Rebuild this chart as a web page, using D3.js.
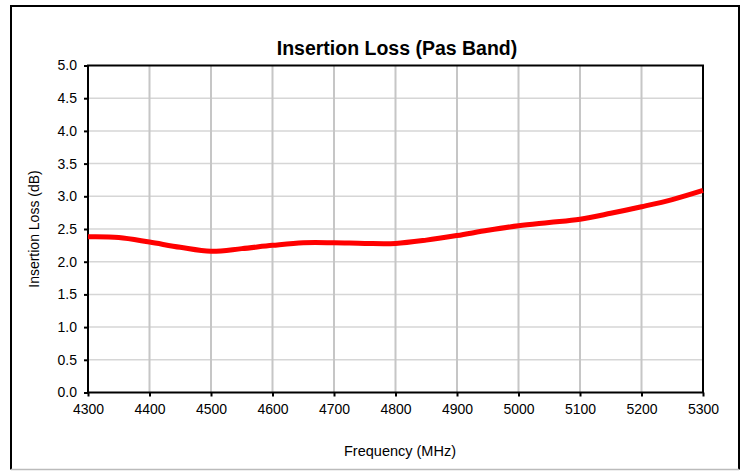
<!doctype html>
<meta charset="utf-8">
<title>Insertion Loss (Pas Band)</title>
<script src="https://cdn.jsdelivr.net/npm/d3@7"></script>
<style>
body { margin: 0; background: #fff; }
svg { display: block; font-family: "Liberation Sans", Arial, sans-serif; }
.tick text { font-size: 14px; fill: #000; }
</style>
<svg id="chart" width="746" height="471"></svg>
<script>
var freqs = [4300, 4350, 4400, 4450, 4500, 4550, 4600, 4650, 4700, 4750, 4800,
             4850, 4900, 4950, 5000, 5050, 5100, 5150, 5200, 5250, 5300];
var loss  = [2.38, 2.37, 2.30, 2.22, 2.16, 2.20, 2.25, 2.29, 2.29, 2.28, 2.28,
             2.33, 2.40, 2.48, 2.55, 2.60, 2.65, 2.74, 2.84, 2.95, 3.09];
var xTicks = [4300, 4400, 4500, 4600, 4700, 4800, 4900, 5000, 5100, 5200, 5300];
var yTicks = [0, 0.5, 1, 1.5, 2, 2.5, 3, 3.5, 4, 4.5, 5];

var plotL = 88, plotT = 65.5, plotR = 703, plotB = 392.5;

var svg = d3.select("#chart");

// outer frame
svg.append("path")
  .attr("d", "M11,469.5 V6 H739 V469.5")
  .attr("fill", "none").attr("stroke", "#000").attr("stroke-width", 2);
svg.append("line")
  .attr("x1", 11).attr("x2", 739).attr("y1", 469.5).attr("y2", 469.5)
  .attr("stroke", "#bbb").attr("stroke-width", 1.5);

var x = d3.scaleLinear().domain([4300, 5300]).range([plotL, plotR]);
var y = d3.scaleLinear().domain([0, 5]).range([plotB, plotT]);

// grid
svg.append("g").selectAll("line").data(yTicks.slice(1, -1)).join("line")
  .attr("x1", plotL).attr("x2", plotR)
  .attr("y1", d => y(d)).attr("y2", d => y(d))
  .attr("stroke", "#d6d6d6").attr("stroke-width", 1.5);
svg.append("g").selectAll("line").data(xTicks.slice(1, -1)).join("line")
  .attr("y1", plotT).attr("y2", plotB)
  .attr("x1", d => x(d)).attr("x2", d => x(d))
  .attr("stroke", "#c6c6c6").attr("stroke-width", 2);

// axes
var xAxis = svg.append("g")
  .attr("transform", "translate(0," + plotB + ")")
  .call(d3.axisBottom(x).tickValues(xTicks).tickSize(4).tickPadding(8).tickFormat(d3.format("d")));
var yAxis = svg.append("g")
  .attr("transform", "translate(" + plotL + ",0)")
  .call(d3.axisLeft(y).tickValues(yTicks).tickSize(4).tickPadding(7).tickFormat(d3.format(".1f")));
[xAxis, yAxis].forEach(function(a) {
  a.select(".domain").remove();
  a.selectAll(".tick line").attr("stroke", "#000").attr("stroke-width", 2);
  a.attr("font-family", null).attr("font-size", null);
});

// plot border
svg.append("rect")
  .attr("x", plotL).attr("y", plotT)
  .attr("width", plotR - plotL).attr("height", plotB - plotT)
  .attr("fill", "none").attr("stroke", "#000").attr("stroke-width", 2);

// data line
var line = d3.line()
  .x((d, i) => x(freqs[i]))
  .y(d => y(d))
  .curve(d3.curveCatmullRom);
svg.append("path")
  .datum(loss)
  .attr("d", line)
  .attr("fill", "none")
  .attr("stroke", "#ff0000")
  .attr("stroke-width", 5);

// labels
svg.append("text")
  .attr("x", 397).attr("y", 55)
  .attr("text-anchor", "middle")
  .attr("font-size", 19.5).attr("font-weight", "bold")
  .text("Insertion Loss (Pas Band)");
svg.append("text")
  .attr("x", 400).attr("y", 455.5)
  .attr("text-anchor", "middle")
  .attr("font-size", 14.5)
  .text("Frequency (MHz)");
svg.append("text")
  .attr("transform", "translate(39," + (plotT + plotB) / 2 + ") rotate(-90)")
  .attr("text-anchor", "middle")
  .attr("font-size", 14)
  .text("Insertion Loss (dB)");
</script>
